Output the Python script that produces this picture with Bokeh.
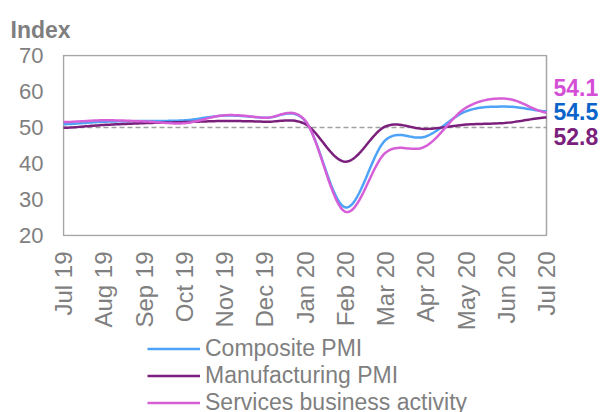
import numpy as np
from bokeh.plotting import figure
from bokeh.layouts import column
from bokeh.models import Legend, LegendItem, FixedTicker, Range1d
from bokeh.core.properties import value
from bokeh.embed import file_html
from bokeh.resources import INLINE

months = ["Jul 19", "Aug 19", "Sep 19", "Oct 19", "Nov 19", "Dec 19", "Jan 20",
          "Feb 20", "Mar 20", "Apr 20", "May 20", "Jun 20", "Jul 20"]
composite = [50.9, 51.6, 51.8, 52.0, 53.3, 52.7, 51.9, 27.8, 46.5, 47.5, 54.5, 55.8, 54.5]
manufacturing = [49.9, 50.7, 51.2, 51.5, 51.8, 51.6, 51.0, 40.5, 50.3, 49.6, 50.8, 51.3, 52.8]
services = [51.5, 52.0, 51.7, 51.2, 53.4, 52.7, 52.0, 26.6, 43.0, 44.8, 55.5, 58.0, 54.1]
series_names = ["Composite PMI", "Manufacturing PMI", "Services business activity"]
end_labels = ["54.5", "52.8", "54.1"]
y_ticks = [20, 30, 40, 50, 60, 70]
threshold = 50

FONT = "Liberation Sans"
GRAY = "#7f7f7f"
C_COMP = "#4da3f7"
C_MAN = "#7b1f7d"
C_SERV = "#d65fd8"
colors = [C_COMP, C_MAN, C_SERV]


def smooth(ys, n=20):
    N = len(ys)
    xo, yo = [], []
    for i in range(N - 1):
        p0 = ys[i - 1] if i > 0 else ys[i]
        p1, p2 = ys[i], ys[i + 1]
        p3 = ys[i + 2] if i + 2 < N else ys[i + 1]
        for t in np.linspace(0, 1, n, endpoint=False):
            t2, t3 = t * t, t * t * t
            y = 0.5 * ((2 * p1) + (-p0 + p2) * t + (2 * p0 - 5 * p1 + 4 * p2 - p3) * t2
                       + (-p0 + 3 * p1 - 3 * p2 + p3) * t3)
            xo.append(i + t)
            yo.append(y)
    xo.append(N - 1)
    yo.append(ys[-1])
    return xo, yo


last_x = len(months) - 1
px_x = 483 / last_x          # pixels per month in the plot box
px_y = 180 / (y_ticks[-1] - y_ticks[0])
x_lo = -1 / px_x
x_hi = last_x + 55 / px_x     # room on the right for end labels
y_lo = y_ticks[0] - 1 / px_y
y_hi = y_ticks[-1] + 1 / px_y

p = figure(frame_width=539, frame_height=182, output_backend="svg", toolbar_location=None,
           x_range=Range1d(x_lo, x_hi), y_range=Range1d(y_lo, y_hi),
           min_border_left=62, min_border_right=0, min_border_bottom=98, min_border_top=54)

p.title.text = "Index"
p.title.text_font = FONT
p.title.text_font_size = "23px"
p.title.text_font_style = "bold"
p.title.text_color = GRAY
p.title.align = "left"
p.title.offset = -52
p.title.standoff = 24

p.grid.visible = False
p.outline_line_color = None
p.background_fill_color = "white"
p.border_fill_color = "white"

for ax in (p.xaxis[0], p.yaxis[0]):
    ax.axis_line_color = None
    ax.major_tick_line_color = None
    ax.minor_tick_line_color = None
    ax.major_tick_in = 0
    ax.major_tick_out = 0
    ax.major_label_text_font = FONT
    ax.major_label_text_color = GRAY

p.yaxis.ticker = FixedTicker(ticks=y_ticks)
p.yaxis.major_label_text_font_size = "22px"
p.yaxis.major_label_standoff = 19

p.xaxis.ticker = FixedTicker(ticks=list(range(len(months))))
p.xaxis.major_label_overrides = {i: m for i, m in enumerate(months)}
p.xaxis.major_label_orientation = np.pi / 2
p.xaxis.major_label_text_font_size = "24px"
p.xaxis.major_label_standoff = 15

# plot box
p.quad(left=[0], right=[last_x], bottom=[y_ticks[0]], top=[y_ticks[-1]],
       fill_color=None, line_color="#a6a6a6", line_width=1.5)
# 50 threshold
p.line([0, last_x], [threshold, threshold], line_color="#a0a0a0",
       line_width=1.5, line_dash="5 3")

for ys, col in zip((composite, manufacturing, services), colors):
    xs, yy = smooth(ys)
    p.line(xs, yy, line_color=col, line_width=2.5)

# end labels
lbl = dict(text_font=value(FONT), text_font_size="23px", text_font_style="bold",
           text_align="left", text_baseline="middle", x_offset=7)
p.text([last_x], [services[-1]], text=[end_labels[2]], text_color="#d44fd6", y_offset=-25, **lbl)
p.text([last_x], [composite[-1]], text=[end_labels[0]], text_color="#0b64c9", y_offset=0, **lbl)
p.text([last_x], [manufacturing[-1]], text=[end_labels[1]], text_color="#7b1f7d", y_offset=19, **lbl)

# legend panel below the chart
pl = figure(width=601, height=79, output_backend="svg", toolbar_location=None,
            x_range=Range1d(0, 1), y_range=Range1d(0, 1),
            min_border_left=0, min_border_right=0, min_border_top=0, min_border_bottom=0)
pl.axis.visible = False
pl.grid.visible = False
pl.outline_line_color = None
pl.border_fill_color = "white"
items = []
for name, col in zip(series_names, colors):
    r = pl.line([-5, -4], [-5, -4], line_color=col, line_width=2.5)
    items.append(LegendItem(label=name, renderers=[r]))
legend = Legend(items=items, location=(85, -3), orientation="vertical",
                label_text_font=FONT, label_text_font_size="23px", label_text_color=GRAY,
                glyph_width=53, glyph_height=27, label_height=27, label_standoff=5,
                spacing=0, padding=0, margin=0,
                border_line_color=None, background_fill_alpha=0)
pl.add_layout(legend, "center")

open("out.html", "w").write(file_html(column(p, pl, spacing=0), INLINE))
